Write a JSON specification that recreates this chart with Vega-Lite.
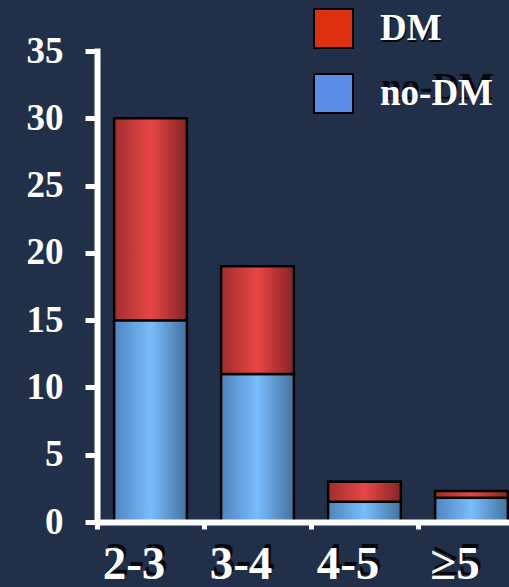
{
  "$schema": "https://vega.github.io/schema/vega-lite/v6.json",
  "width": 428,
  "height": 471,
  "autosize": {"type": "none"},
  "padding": {"left": 97, "top": 51, "right": 0, "bottom": 65},
  "background": "#212f48",
  "config": {
    "view": {"stroke": null},
    "font": "Liberation Serif",
    "axis": {
      "labelFont": "Liberation Serif",
      "labelFontWeight": "bold",
      "labelColor": "white",
      "domainColor": "white",
      "tickColor": "white",
      "grid": false
    }
  },
  "data": {
    "values": [
      {"range": "2-3", "group": "no-DM", "count": 15},
      {"range": "2-3", "group": "DM", "count": 15},
      {"range": "3-4", "group": "no-DM", "count": 11},
      {"range": "3-4", "group": "DM", "count": 8},
      {"range": "4-5", "group": "no-DM", "count": 1.5},
      {"range": "4-5", "group": "DM", "count": 1.5},
      {"range": "≥5", "group": "no-DM", "count": 1.8},
      {"range": "≥5", "group": "DM", "count": 0.5}
    ]
  },
  "encoding": {
    "y": {
      "field": "count",
      "type": "quantitative",
      "stack": "zero",
      "scale": {"domain": [0, 35], "nice": false},
      "axis": {
        "title": null,
        "values": [0, 5, 10, 15, 20, 25, 30, 35],
        "labelFontSize": 37,
        "labelPadding": 22,
        "tickSize": 12,
        "tickWidth": 5,
        "domainWidth": 6,
        "domainCap": "square"
      }
    },
    "order": {"field": "group", "sort": "descending"}
  },
  "layer": [
    {
      "description": "Solid bars underneath: they provide the legend, and their x axis draws the dark drop shadow of the category labels.",
      "mark": {"type": "bar", "width": {"band": 0.68}, "stroke": "black", "strokeWidth": 2},
      "encoding": {
        "x": {
          "field": "range",
          "type": "nominal",
          "sort": null,
          "scale": {"paddingInner": 0, "paddingOuter": 0},
          "axis": {
            "orient": "bottom",
            "zindex": 0,
            "title": null,
            "labelAngle": 0,
            "labelFontSize": 47,
            "labelColor": "#05080f",
            "labelPadding": 15,
            "labelOffset": -14,
            "domain": false,
            "ticks": false,
            "tickSize": 7
          }
        },
        "fill": {
          "field": "group",
          "type": "nominal",
          "scale": {"domain": ["DM", "no-DM"], "range": ["#dc300e", "#5b8de6"]},
          "legend": {
            "title": null,
            "orient": "none",
            "zindex": 1,
            "legendX": 216,
            "legendY": -43,
            "symbolType": "square",
            "symbolSize": 1521,
            "symbolOpacity": 1,
            "symbolStrokeColor": "black",
            "symbolStrokeWidth": 2,
            "rowPadding": 18,
            "labelOffset": 26,
            "labelFont": "Liberation Serif",
            "labelFontWeight": "bold",
            "labelFontSize": 37,
            "labelColor": "white",
            "labelLimit": 300
          }
        }
      }
    },
    {
      "description": "Gradient bars with black outlines on top, the white category labels, and the legend label shadows.",
      "mark": {"type": "bar", "width": {"band": 0.68}, "strokeWidth": 2.5},
      "encoding": {
        "x": {
          "field": "range",
          "type": "nominal",
          "sort": null,
          "scale": {"paddingInner": 0, "paddingOuter": 0},
          "axis": {
            "orient": "bottom",
            "zindex": 1,
            "title": null,
            "labelAngle": 0,
            "labelFontSize": 47,
            "labelPadding": 12,
            "labelOffset": -17,
            "tickBand": "extent",
            "tickSize": 7,
            "tickWidth": 5,
            "domainWidth": 6
          }
        },
        "stroke": {
          "field": "group",
          "type": "nominal",
          "scale": {"domain": ["DM", "no-DM"], "range": ["black", "black"]},
          "legend": {
            "title": null,
            "orient": "none",
            "zindex": 0,
            "legendX": 219,
            "legendY": -40,
            "symbolType": "square",
            "symbolSize": 1521,
            "symbolOpacity": 0,
            "symbolStrokeWidth": 0,
            "rowPadding": 18,
            "labelOffset": 26,
            "labelFont": "Liberation Serif",
            "labelFontWeight": "bold",
            "labelFontSize": 37,
            "labelColor": "#05080f",
            "labelLimit": 300
          }
        },
        "fill": {
          "condition": {
            "test": "datum.group === 'DM'",
            "value": {"gradient": "linear", "x1": 0, "x2": 1, "y1": 0, "y2": 0, "stops": [{"offset": 0, "color": "#a02e2e"}, {"offset": 0.5, "color": "#e84646"}, {"offset": 1, "color": "#862424"}]}
          },
          "value": {"gradient": "linear", "x1": 0, "x2": 1, "y1": 0, "y2": 0, "stops": [{"offset": 0, "color": "#4e84be"}, {"offset": 0.5, "color": "#7abcfc"}, {"offset": 1, "color": "#44729f"}]}
        }
      }
    }
  ],
  "resolve": {
    "axis": {"x": "independent"},
    "legend": {"fill": "independent", "stroke": "independent"}
  }
}
